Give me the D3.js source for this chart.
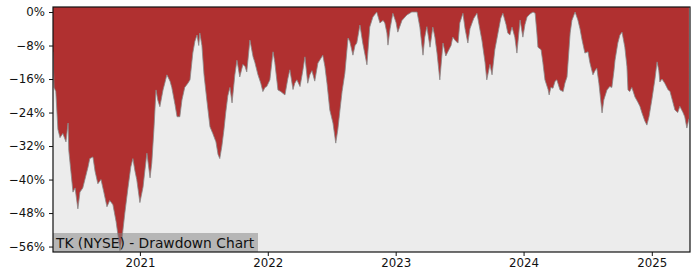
<!DOCTYPE html>
<html>
<head>
<meta charset="utf-8">
<script src="https://cdn.jsdelivr.net/npm/d3@7"></script>
<style>
  body { margin: 0; background: #fff; }
  svg { display: block; font-family: "DejaVu Sans", sans-serif; }
</style>
</head>
<body>
<svg id="chart"></svg>
<script>
// drawdown readings, TK (NYSE)
var dates = [
  "2020-04-28","2020-05-01","2020-05-06","2020-05-12","2020-05-18","2020-05-26","2020-06-04","2020-06-10",
  "2020-06-12","2020-06-18","2020-06-24","2020-06-30","2020-07-08","2020-07-14","2020-07-22","2020-07-28",
  "2020-08-06","2020-08-11","2020-08-20","2020-08-26","2020-09-03","2020-09-12","2020-09-20","2020-09-29",
  "2020-10-07","2020-10-16","2020-10-25","2020-10-30","2020-11-05","2020-11-11","2020-11-19","2020-11-28",
  "2020-12-06","2020-12-12","2020-12-18","2020-12-23","2021-01-01","2021-01-10","2021-01-15","2021-01-21",
  "2021-01-30","2021-02-04","2021-02-10","2021-02-16","2021-02-21","2021-02-27","2021-03-08","2021-03-13",
  "2021-03-19","2021-03-28","2021-04-02","2021-04-11","2021-04-17","2021-04-25","2021-05-01","2021-05-09",
  "2021-05-18","2021-05-24","2021-06-01","2021-06-07","2021-06-13","2021-06-18","2021-06-21","2021-06-27",
  "2021-07-03","2021-07-11","2021-07-20","2021-07-28","2021-08-06","2021-08-12","2021-08-17","2021-08-23",
  "2021-08-29","2021-09-03","2021-09-09","2021-09-15","2021-09-21","2021-09-29","2021-10-05","2021-10-13",
  "2021-10-22","2021-10-28","2021-11-02","2021-11-11","2021-11-20","2021-11-25","2021-12-04","2021-12-12",
  "2021-12-18","2021-12-24","2021-12-29","2022-01-07","2022-01-16","2022-01-21","2022-01-30","2022-02-07",
  "2022-02-19","2022-02-27","2022-03-05","2022-03-14","2022-03-19","2022-03-25","2022-04-03","2022-04-11",
  "2022-04-17","2022-04-25","2022-05-01","2022-05-07","2022-05-15","2022-05-24","2022-06-02","2022-06-07",
  "2022-06-13","2022-06-19","2022-06-27","2022-07-06","2022-07-14","2022-07-20","2022-07-26","2022-08-01",
  "2022-08-09","2022-08-18","2022-08-23","2022-09-01","2022-09-07","2022-09-12","2022-09-21","2022-09-29",
  "2022-10-05","2022-10-11","2022-10-19","2022-10-28","2022-11-08","2022-11-17","2022-11-26","2022-12-01",
  "2022-12-07","2022-12-10","2022-12-16","2022-12-24","2023-01-02","2023-01-07","2023-01-19","2023-02-02",
  "2023-02-16","2023-03-03","2023-03-11","2023-03-20","2023-03-25","2023-03-31","2023-04-09","2023-04-17",
  "2023-04-23","2023-04-29","2023-05-07","2023-05-16","2023-05-24","2023-05-30","2023-06-08","2023-06-13",
  "2023-06-22","2023-06-28","2023-07-03","2023-07-12","2023-07-18","2023-07-26","2023-08-01","2023-08-07",
  "2023-08-12","2023-08-21","2023-08-29","2023-09-04","2023-09-13","2023-09-18","2023-09-27","2023-10-03",
  "2023-10-11","2023-10-20","2023-10-28","2023-11-03","2023-11-12","2023-11-17","2023-11-23","2023-11-29",
  "2023-12-07","2023-12-13","2023-12-22","2023-12-30","2024-01-05","2024-01-11","2024-01-19","2024-01-28",
  "2024-02-03","2024-02-08","2024-02-11","2024-02-20","2024-02-25","2024-03-02","2024-03-11","2024-03-14",
  "2024-03-19","2024-03-25","2024-03-31","2024-04-05","2024-04-14","2024-04-23","2024-04-28","2024-05-04",
  "2024-05-13","2024-05-18","2024-05-27","2024-06-04","2024-06-10","2024-06-16","2024-06-24","2024-07-03",
  "2024-07-08","2024-07-17","2024-07-23","2024-07-28","2024-08-03","2024-08-12","2024-08-17","2024-08-26",
  "2024-09-03","2024-09-09","2024-09-15","2024-09-18","2024-09-26","2024-10-02","2024-10-08","2024-10-16",
  "2024-10-22","2024-10-25","2024-10-30","2024-11-05","2024-11-14","2024-11-22","2024-11-28","2024-12-04",
  "2024-12-12","2024-12-18","2024-12-24","2025-01-01","2025-01-10","2025-01-16","2025-01-21","2025-01-24",
  "2025-01-30","2025-02-07","2025-02-16","2025-02-22","2025-03-02","2025-03-08","2025-03-16","2025-03-22",
  "2025-03-31","2025-04-05","2025-04-11","2025-04-17"
];
var drawdown = [
  -9.5,-18,-19,-28,-30,-29,-31,-26.5,
  -33,-38,-43,-42,-47,-43,-42,-40,
  -37,-35,-34.6,-38,-41,-40,-43,-46.5,
  -45,-46,-50,-53,-57,-54,-48,-42,
  -37,-35,-38,-40,-45.5,-41.8,-38,-33.7,
  -39.6,-36,-28,-18.6,-21,-22.6,-18.6,-17,
  -15,-16.5,-18,-22,-25,-25,-21,-18,
  -17,-16.2,-9.8,-7,-5.5,-8,-5,-8,
  -15,-21,-27.4,-29,-31,-34,-35,-32,
  -28,-24,-20,-18,-21.7,-15,-11.5,-15.5,
  -12.5,-13,-14.3,-6.7,-10.7,-12,-15,-17,
  -19,-18,-17.8,-16.2,-9.5,-12,-18.6,-19,
  -19.8,-16,-13.8,-18.5,-17,-16.2,-17.8,-14,
  -10.7,-17,-15,-14,-16.5,-12.2,-11,-10.3,
  -13,-17,-23.4,-26.5,-31.3,-28,-23.4,-19,
  -14.6,-6.2,-7,-10.3,-8,-7.4,-3.1,-7.4,
  -10,-12.6,-3.6,-1.2,0,-2.6,-2,-2.6,
  -5,-7.9,-4,-0.3,-2.5,-4.8,-2,-0.7,
  0,0,-3.6,-10.3,-6,-3.5,-8.4,-3.6,
  -6,-9.8,-16.2,-7.4,-10.5,-9.5,-8,-6,
  -7,-7.4,-2.6,-0.3,-4,-7.4,-4,-2.6,
  -1.5,-0.3,-4,-6.7,-12,-16.2,-12.5,-15,
  -9,-5,-1.5,-0.3,-3,-5,-5.5,-3.6,
  -6,-9.8,-1.9,-6,-3,-1.2,-0.5,0,
  -0.3,-5,-8.4,-9,-12,-16.2,-18.5,-19.8,
  -18,-18.2,-16.5,-16.2,-18.6,-19,-17,-15.5,
  -5,-2,0,-1.9,-4,-6.7,-9.8,-9.5,
  -12,-15,-14,-13.4,-17,-24.1,-21,-18.6,
  -17.8,-18,-14,-11.5,-7.4,-5.5,-4.8,-8.4,
  -13,-18.6,-19,-18,-20.3,-21.5,-22.5,-24.1,
  -26,-27,-25,-21,-16,-11.9,-14,-16.7,
  -16,-17,-18.5,-19,-21.5,-23.4,-24,-22.5,
  -24,-25,-27.7,-25.5
];
var yTicks = [0, -8, -16, -24, -32, -40, -48, -56];
var xTickYears = [2021, 2022, 2023, 2024, 2025];
var title = "TK (NYSE) - Drawdown Chart";

var width = 700, height = 280;
var margin = {top: 7, right: 10, bottom: 28, left: 53};
var innerW = width - margin.left - margin.right;
var innerH = height - margin.top - margin.bottom;

var parse = d3.timeParse("%Y-%m-%d");
var data = dates.map(function(d, i) { return {date: parse(d), value: drawdown[i]}; });

var svg = d3.select("#chart").attr("width", width).attr("height", height);
var g = svg.append("g").attr("transform", `translate(${margin.left},${margin.top})`);

var x = d3.scaleTime()
    .domain([parse("2020-04-28"), parse("2025-04-20")])
    .range([0, innerW]);
var y = d3.scaleLinear()
    .domain([-57.3, 1.2])
    .range([innerH, 0]);

g.append("clipPath").attr("id", "clip")
  .append("rect").attr("width", innerW).attr("height", innerH);

g.append("rect")
    .attr("width", innerW).attr("height", innerH)
    .attr("fill", "#ececec");

var area = d3.area()
    .x(d => x(d.date))
    .y0(0)
    .y1(d => y(d.value));

var plot = g.append("g").attr("clip-path", "url(#clip)");

plot.append("path")
    .datum(data)
    .attr("d", area)
    .attr("fill", "#b03030");

plot.append("path")
    .datum(data)
    .attr("d", d3.line().x(d => x(d.date)).y(d => y(d.value)))
    .attr("fill", "none")
    .attr("stroke", "#888")
    .attr("stroke-opacity", 0.8)
    .attr("stroke-width", 1);

// title box
var tb = g.append("g").attr("transform", `translate(0,${innerH - 19})`);
tb.append("rect")
    .attr("width", 205).attr("height", 19)
    .attr("fill", "#808080").attr("fill-opacity", 0.5);
tb.append("text")
    .attr("x", 3).attr("y", 14.5)
    .attr("font-size", "13.8px")
    .attr("fill", "#111")
    .text(title);

// axes
var fmt = function(d) { return (d < 0 ? "\u2212" + Math.abs(d) : d) + "%"; };
var yAxis = g.append("g")
    .call(d3.axisLeft(y).tickValues(yTicks).tickFormat(fmt).tickSize(4).tickPadding(4));
var xAxis = g.append("g")
    .attr("transform", `translate(0,${innerH})`)
    .call(d3.axisBottom(x)
        .tickValues(xTickYears.map(v => new Date(v, 0, 1)))
        .tickFormat(d3.timeFormat("%Y"))
        .tickSize(4).tickPadding(3));

[yAxis, xAxis].forEach(function(a) {
  a.select(".domain").remove();
  a.selectAll("text").attr("font-size", "11.8px").attr("fill", "#111")
    .style("font-family", "DejaVu Sans, sans-serif");
  a.selectAll("line").attr("stroke", "#111");
});

g.append("rect")
    .attr("width", innerW).attr("height", innerH)
    .attr("fill", "none").attr("stroke", "#111").attr("stroke-width", 1.2);
</script>
</body>
</html>
